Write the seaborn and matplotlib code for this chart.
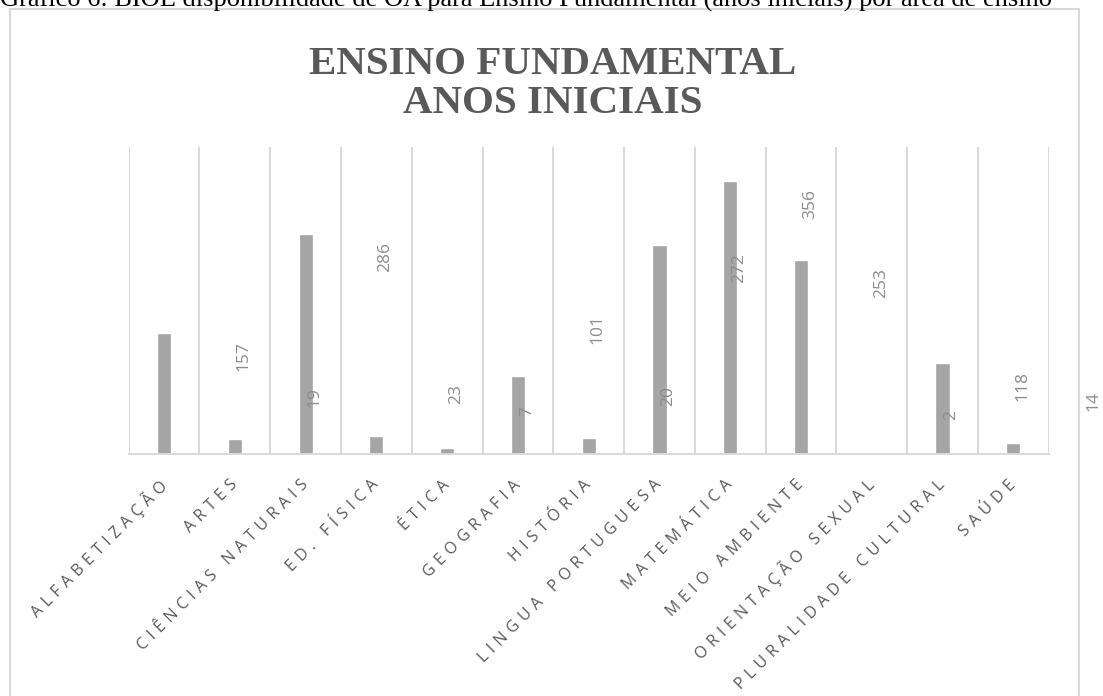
import matplotlib
matplotlib.use("Agg")
import matplotlib.pyplot as plt
from matplotlib.patches import Rectangle
import seaborn as sns
import pandas as pd

# Learning objects available per subject area (early primary years)
categorias = [
    "ALFABETIZAÇÃO", "ARTES", "CIÊNCIAS NATURAIS", "ED. FÍSICA", "ÉTICA",
    "GEOGRAFIA", "HISTÓRIA", "LINGUA PORTUGUESA", "MATEMÁTICA",
    "MEIO AMBIENTE", "ORIENTAÇÃO SEXUAL", "PLURALIDADE CULTURAL", "SAÚDE",
]
quantidades = [157, 19, 286, 23, 7, 101, 20, 272, 356, 253, 2, 118, 14]

titulo_linhas = ["ENSINO FUNDAMENTAL", "ANOS INICIAIS"]
legenda_figura = ("Gráfico 6: BIOE disponibilidade de OA para Ensino Fundamental "
                  "(anos iniciais) por área de ensino")

sns.set_theme(style="white")
plt.rcParams["font.family"] = ["Open Sans", "DejaVu Sans"]

GRID = "#d9d9d9"
BAR = "#a5a5a5"
TEXT = "#595959"
LABEL = "#8c8c8c"

W, H = 1103, 696
fig = plt.figure(figsize=(W / 100, H / 100), dpi=100)
fig.patch.set_facecolor("white")

# plot area in pixel coordinates
left, right, top, bottom = 128.7, 1048.7, 147.0, 453.5
ax = fig.add_axes([left / W, 1 - bottom / H, (right - left) / W, (bottom - top) / H])

df = pd.DataFrame({"area": categorias, "total": quantidades})
sns.barplot(data=df, x="area", y="total", color=BAR, width=0.2,
            saturation=1, ax=ax)

ax.set_xlim(-0.5, len(categorias) - 0.5)
ax.set_ylim(0, 400)
ax.set_xlabel("")
ax.set_ylabel("")
ax.set_yticks([])

# vertical separators between categories
for b in range(len(categorias) + 1):
    ax.axvline(b - 0.5, color=GRID, lw=1.4, zorder=0)

for s in ["top", "left", "right"]:
    ax.spines[s].set_visible(False)
ax.spines["bottom"].set_color(GRID)
ax.spines["bottom"].set_linewidth(1.4)


def espacado(texto, sep="\u2004"):
    return sep.join(texto)


ax.set_xticks(range(len(categorias)))
ax.set_xticklabels([espacado(c) for c in categorias], rotation=45, ha="right",
                   rotation_mode="anchor", va="center", fontsize=11.5, color=TEXT)
ax.tick_params(axis="x", length=0, pad=21)

# value labels, written one slot to the right of each bar
for i, v in enumerate(quantidades):
    if v >= 110:
        off, va = -8, "top"
    else:
        off, va = 32, "bottom"
    ax.annotate(str(v), xy=(i + 1, v), xytext=(9, off),
                textcoords="offset pixels", rotation=90, ha="center", va=va,
                fontsize=12.5, color=LABEL, annotation_clip=False)

# chart title
serif = ["Liberation Serif", "DejaVu Serif"]
for texto, base in zip(titulo_linhas, [74, 113]):
    fig.text(553 / W, 1 - base / H, texto, ha="center", va="baseline",
             family=serif, fontweight="bold", fontsize=29.5, color=TEXT)

# caption above the chart frame
fig.text(526 / W, 1 - 7 / H, legenda_figura, ha="center", va="baseline",
         family="Liberation Serif", fontsize=19, color="black")

# chart frame
fig.add_artist(Rectangle((10 / W, -0.05), (1079 - 10) / W, 1.05 - 9 / H,
                         transform=fig.transFigure, fill=False, ec=GRID,
                         lw=1.5, clip_on=False))

fig.savefig("out.png", dpi=100, facecolor="white")
